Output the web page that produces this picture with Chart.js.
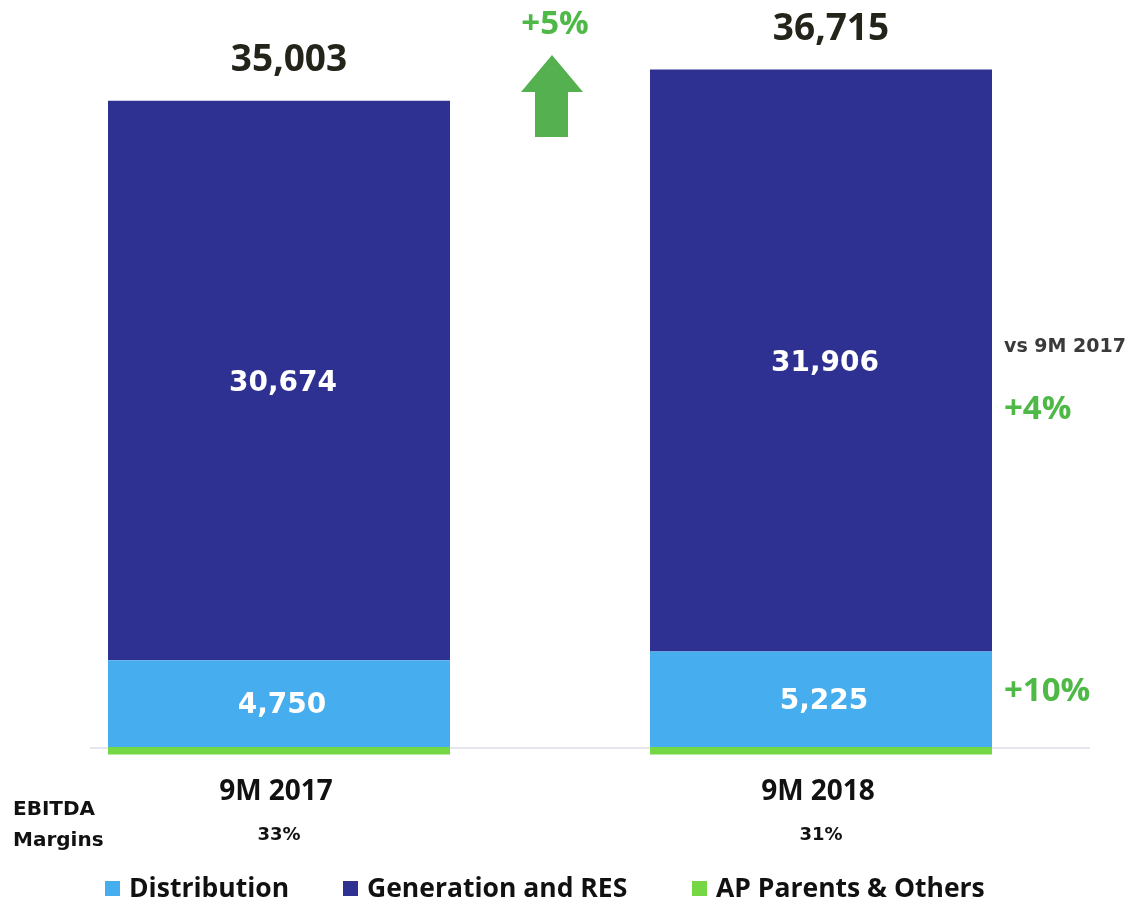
<!DOCTYPE html>
<html lang="en">
<head>
  <meta charset="UTF-8">
  <title>EBITDA by segment</title>
  <script src="https://cdn.jsdelivr.net/npm/chart.js@4.4.0/dist/chart.umd.min.js"></script>
  <style>
    html, body { margin: 0; padding: 0; background: #fff; }
    #wrap { width: 1127px; height: 906px; }
  </style>
</head>
<body>
  <div id="wrap"><canvas id="myChart"></canvas></div>
  <script>
    // chart data
    const periods = ['9M 2017', '9M 2018'];
    const distribution = [4750, 5225];
    const generation = [30674, 31906];
    const apParents = [-421, -416];
    const totals = [35003, 36715];
    const margins = ['33%', '31%'];
    const totalGrowth = '+5%';
    const generationGrowth = '+4%';
    const distributionGrowth = '+10%';

    const FONT = '"Open Sans", "DejaVu Sans", sans-serif';
    const WIDE = '"DejaVu Sans", Verdana, sans-serif';
    const GREEN_TXT = '#4fb947';

    const fmt = v => v.toLocaleString('en-US');

    // custom texts, arrow and legend
    const annotations = {
      id: 'annotations',
      beforeDatasetsDraw(chart) {
        const ctx = chart.ctx;
        const y0 = chart.scales.y.getPixelForValue(0);
        ctx.save();
        ctx.strokeStyle = '#e6e6ef';
        ctx.lineWidth = 2;
        ctx.beginPath();
        ctx.moveTo(90, y0 + 1);
        ctx.lineTo(1090, y0 + 1);
        ctx.stroke();
        ctx.restore();
      },
      afterDraw(chart) {
        const ctx = chart.ctx;
        const x = chart.scales.x;
        const y = chart.scales.y;
        const distMeta = chart.getDatasetMeta(0);
        const genMeta = chart.getDatasetMeta(1);
        ctx.save();
        ctx.textAlign = 'center';
        ctx.textBaseline = 'middle';

        periods.forEach((p, i) => {
          const cx = x.getPixelForValue(i);
          const top = y.getPixelForValue(distribution[i] + generation[i]);
          // total on top
          ctx.fillStyle = '#24241a';
          ctx.font = 'bold 37px ' + FONT;
          ctx.fillText(fmt(totals[i]), cx + 10, top - 40);
          // values inside
          ctx.fillStyle = '#ffffff';
          ctx.font = 'bold 28px ' + WIDE;
          const g = genMeta.data[i];
          ctx.fillText(fmt(generation[i]), cx + 4, (g.y + g.base) / 2 + 3);
          const d = distMeta.data[i];
          ctx.fillText(fmt(distribution[i]), cx + 3, (d.y + d.base) / 2 + 2);
          // category and margin
          ctx.fillStyle = '#111';
          ctx.font = 'bold 28px ' + FONT;
          ctx.fillText(p, cx - 3, 792);
          ctx.font = 'bold 18px ' + WIDE;
          ctx.fillText(margins[i], cx, 835);
        });

        // EBITDA margins label
        ctx.textAlign = 'left';
        ctx.font = 'bold 20px ' + WIDE;
        ctx.fillStyle = '#111';
        ctx.fillText('EBITDA', 13, 810);
        ctx.fillText('Margins', 13, 841);

        // growth on right side
        const g2 = genMeta.data[1];
        const d2 = distMeta.data[1];
        const rx = g2.x + g2.width / 2 + 12;
        ctx.fillStyle = '#3a3a3a';
        ctx.font = 'bold 19px ' + WIDE;
        ctx.fillText('vs 9M 2017', rx, 347);
        ctx.fillStyle = GREEN_TXT;
        ctx.font = 'bold 33px ' + FONT;
        ctx.fillText(generationGrowth, rx, (g2.y + g2.base) / 2 + 49);
        ctx.fillText(distributionGrowth, rx, (d2.y + d2.base) / 2 - 8);

        // arrow between bars
        const mx = (x.getPixelForValue(0) + x.getPixelForValue(1)) / 2 + 2;
        ctx.textAlign = 'center';
        ctx.fillText(totalGrowth, mx + 3, 25);
        ctx.fillStyle = '#55b04f';
        ctx.beginPath();
        ctx.moveTo(mx, 55);
        ctx.lineTo(mx + 31, 92);
        ctx.lineTo(mx + 16, 92);
        ctx.lineTo(mx + 16, 137);
        ctx.lineTo(mx - 17, 137);
        ctx.lineTo(mx - 17, 92);
        ctx.lineTo(mx - 31, 92);
        ctx.closePath();
        ctx.fill();

        // legend
        const legendX = [105, 343, 692];
        ctx.textAlign = 'left';
        ctx.font = 'bold 26.5px ' + FONT;
        chart.data.datasets.forEach((ds, i) => {
          ctx.fillStyle = ds.backgroundColor;
          ctx.fillRect(legendX[i], 881, 15, 15);
          ctx.fillStyle = '#111';
          ctx.fillText(ds.label, legendX[i] + 24, 889);
        });
        ctx.restore();
      }
    };

    const ctx = document.getElementById('myChart').getContext('2d');
    new Chart(ctx, {
      type: 'bar',
      data: {
        labels: periods,
        datasets: [
          { label: 'Distribution', data: distribution, backgroundColor: '#46aeee' },
          { label: 'Generation and RES', data: generation, backgroundColor: '#2e3192' },
          { label: 'AP Parents & Others', data: apParents, backgroundColor: '#74d743' }
        ]
      },
      options: {
        responsive: true,
        maintainAspectRatio: false,
        animation: false,
        layout: { padding: { left: 8, right: 35, top: 19, bottom: 150 } },
        datasets: { bar: { categoryPercentage: 1, barPercentage: 0.631 } },
        plugins: {
          legend: { display: false },
          tooltip: { enabled: false }
        },
        scales: {
          x: { stacked: true, display: false },
          y: { stacked: true, display: false, min: -500, max: 39900 }
        }
      },
      plugins: [annotations]
    });
  </script>
</body>
</html>
